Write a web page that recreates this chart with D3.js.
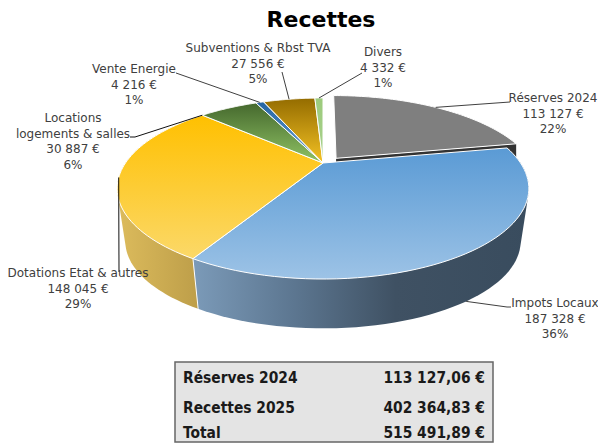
<!DOCTYPE html>
<html><head><meta charset="utf-8">
<script src="https://cdn.jsdelivr.net/npm/d3@7"></script>
<style>html,body{margin:0;padding:0;background:#fff}svg{display:block}
text{font-family:"DejaVu Sans"}</style></head><body>
<svg id="c" width="598" height="445"></svg>
<script>
const title = "Recettes";
const categories = ["Réserves 2024","Impots Locaux","Dotations Etat & autres","Locations|logements & salles","Vente Energie","Subventions & Rbst TVA","Divers"];
const values = [113127,187328,148045,30887,4216,27556,4332];
const valueLabels = ["113 127 €","187 328 €","148 045 €","30 887 €","4 216 €","27 556 €","4 332 €"];
const pctLabels = ["22%","36%","29%","6%","1%","5%","1%"];
const tableLabels = ["Réserves 2024","Recettes 2025","Total"];
const tableValues = ["113 127,06 €","402 364,83 €","515 491,89 €"];

const topColors = [["#7f7f7f","#7f7f7f"],["#5b9bd5","#9dc3e6"],["#ffc000","#fbd96b"],["#3f6129","#8fc264"],["#1f5f9e","#6fa5d8"],["#946c00","#f4c224"],["#9ccb7c","#a9d18e"]];
const sideColors = {1:[["0%","#7b9ab8"],["30%","#5c7690"],["60%","#3f5163"],["100%","#394c5e"]],2:[["0%","#dcbb5c"],["100%","#bd9e49"]]};

// label anchor (centre x, first baseline y), leader from rim fraction to label
const labelPos = [[553,102],[555,307],[78,277],[73,122],[134,73],[258,52],[383,56]];
const rowBaselines = [383,413,438];
const leaders = [
 {i:0,f:0.5,to:[[510,102]]},
 {i:1,f:0.5,bottom:true,to:[[507,307],[511,307]]},
 {i:2,f:0.49,to:[[119,272]],black:true},
 {i:3,f:0,to:[[135,137],[130,137]],black:true},
 {i:4,f:0.5,to:[[176,73]]},
 {i:5,f:0.5,to:[[282,72]]},
 {i:6,f:0.5,to:[[362,73]]}
];

const svg = d3.select("#c"), defs = svg.append("defs");
const cx=323, cy=163, A=197.5, B=83.3, k=0.282, depth=54, shrink=0.96, explode=0.09;
const arcs = d3.pie().sort(null).startAngle(0).endAngle(2*Math.PI)(values);

function proj(a, r, ox, oy, bottom){
  const X=r*Math.sin(a)+(ox||0), Y=-r*Math.cos(a)+(oy||0), d=1-k*Y;
  const s=bottom?shrink:1;
  return [cx+s*A*X/d, cy+(bottom?depth:0)+s*B*Y/d];
}
const rim=(a0,a1,o,bottom)=>d3.range(0,61).map(j=>proj(a0+(a1-a0)*j/60,1,o[0],o[1],bottom));
const line=d3.line().x(d=>d[0]).y(d=>d[1]);

const gradY=[[96,280],[150,280],[115,262],[98,163],[98,163],[98,163],[98,163]];
arcs.forEach((d,i)=>{
  const g=defs.append("linearGradient").attr("id","t"+i).attr("gradientUnits","userSpaceOnUse")
    .attr("x1",0).attr("x2",0).attr("y1",gradY[i][0]).attr("y2",gradY[i][1]);
  g.append("stop").attr("offset","0%").attr("stop-color",topColors[i][0]);
  g.append("stop").attr("offset","100%").attr("stop-color",topColors[i][1]);
});
Object.keys(sideColors).forEach(i=>{
  const x=i==1?[194,530]:[118,199];
  const g=defs.append("linearGradient").attr("id","s"+i).attr("gradientUnits","userSpaceOnUse")
    .attr("x1",x[0]).attr("x2",x[1]).attr("y1",0).attr("y2",0);
  sideColors[i].forEach(s=>g.append("stop").attr("offset",s[0]).attr("stop-color",s[1]));
});

function offset(d,i){
  if(i!==0) return [0,0];
  const m=(d.startAngle+d.endAngle)/2;
  return [explode*Math.sin(m),-explode*Math.cos(m)];
}
// exploded slice
const d0=arcs[0], o0=offset(d0,0), sh=[2,1];
const ap0=proj(0,0,o0[0],o0[1]), end0=proj(d0.endAngle,1,o0[0],o0[1]);
svg.append("path").attr("fill","#333")
  .attr("d",line([[ap0[0],ap0[1]],[end0[0],end0[1]],[end0[0],end0[1]+depth],[ap0[0],ap0[1]+depth]].map(p=>[p[0]+sh[0],p[1]+sh[1]]))+"Z");
svg.append("path").attr("fill","url(#t0)").attr("stroke","#fff").attr("stroke-width",1)
  .attr("d",line([ap0].concat(rim(d0.startAngle,d0.endAngle,o0)).map(p=>[p[0]+sh[0],p[1]+sh[1]]))+"Z");

// front sides: hull of the extruded rim
[2,1].forEach(i=>{
  const d=arcs[i];
  const hull=d3.polygonHull(rim(d.startAngle,d.endAngle,[0,0]).concat(rim(d.startAngle,d.endAngle,[0,0],true)));
  svg.append("path").attr("fill","url(#s"+i+")").attr("d",line(hull)+"Z");
});
// divider between the two front sides
const div=arcs[1].endAngle;
svg.append("path").attr("fill","none").attr("stroke","#fff").attr("stroke-width",1)
  .attr("d",line([proj(div,1,0,0),proj(div,1,0,0,true)]));
// top faces
arcs.forEach((d,i)=>{
  if(i===0) return;
  svg.append("path").attr("fill","url(#t"+i+")").attr("stroke","#fff").attr("stroke-width",1).attr("stroke-linejoin","round")
    .attr("d",line([[cx,cy]].concat(rim(d.startAngle,d.endAngle,[0,0])))+"Z");
});
// leaders
leaders.forEach(l=>{
  const d=arcs[l.i], o=offset(d,l.i), a=d.startAngle+(d.endAngle-d.startAngle)*l.f;
  let p=proj(a,1,o[0],o[1],l.bottom);
  if(l.i===0) p=[p[0]+sh[0],p[1]+sh[1]];
  svg.append("path").attr("fill","none").attr("stroke",l.black?"#111":"#404040").attr("stroke-width",1)
    .attr("d",line([p].concat(l.to)));
});
// labels
arcs.forEach((d,i)=>{
  const lines=categories[i].split("|").concat([valueLabels[i],pctLabels[i]]);
  const t=svg.append("text").attr("text-anchor","middle").attr("fill","#404040").attr("font-size",12);
  lines.forEach((s,j)=>t.append("tspan").attr("x",labelPos[i][0]).attr("y",labelPos[i][1]+j*15.5).text(s));
});
svg.append("text").attr("x",321).attr("y",27).attr("text-anchor","middle").attr("font-size",22).attr("font-weight","bold").attr("fill","#000").text(title);
// table
svg.append("rect").attr("x",175).attr("y",362).attr("width",318).attr("height",80).attr("fill","#e4e4e4").attr("stroke","#666").attr("stroke-width",1.5);
tableLabels.forEach((s,i)=>{
  svg.append("text").attr("x",183).attr("y",rowBaselines[i]).attr("font-size",15.4).attr("font-weight","bold").style("font-stretch","condensed").attr("fill","#1a1a1a").text(s);
  svg.append("text").attr("x",485).attr("y",rowBaselines[i]).attr("text-anchor","end").attr("font-size",15.4).attr("font-weight","bold").style("font-stretch","condensed").attr("fill","#1a1a1a").text(tableValues[i]);
});
</script></body></html>
